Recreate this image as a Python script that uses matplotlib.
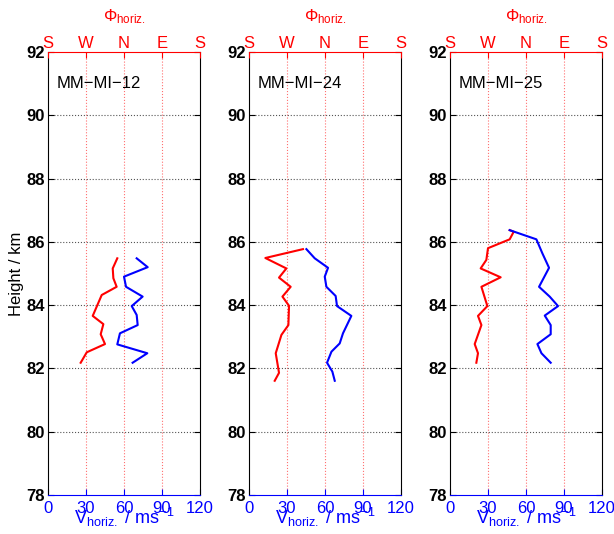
import matplotlib.pyplot as plt

plt.rcParams['font.family'] = ['Liberation Sans', 'DejaVu Sans']
plt.rcParams['mathtext.fontset'] = 'custom'
plt.rcParams['mathtext.rm'] = 'Liberation Sans'
plt.rcParams['mathtext.it'] = 'Liberation Sans'

# station names
names = ['MM\u2212MI\u221212', 'MM\u2212MI\u221224', 'MM\u2212MI\u221225']

# direction profiles (plotted on the 0-120 scale, S W N E S on top)
dir_h1 = [85.48, 85.16, 84.85, 84.58, 84.32, 83.66, 83.40, 83.08, 82.77, 82.51, 82.18]
dir_v1 = [54.7, 51.1, 51.6, 54.2, 42.4, 35.3, 43.7, 41.6, 45.0, 30.6, 25.8]
dir_h2 = [85.77, 85.49, 85.16, 84.87, 84.58, 84.27, 83.98, 83.37, 83.06, 82.48, 81.86, 81.61]
dir_v2 = [42.6, 12.9, 29.5, 23.7, 32.9, 26.4, 31.6, 31.1, 25.6, 21.1, 23.7, 20.3]
dir_h3 = [86.37, 86.32, 86.08, 85.80, 85.43, 85.16, 84.88, 84.58, 83.97, 83.66, 83.37, 82.77, 82.48, 82.18]
dir_v3 = [47.1, 50.3, 47.1, 30.0, 28.7, 24.2, 40.0, 24.8, 29.5, 22.1, 24.8, 19.5, 22.1, 20.8]

# horizontal speed profiles (m/s)
spd_h1 = [85.48, 85.20, 84.90, 84.58, 84.27, 83.97, 83.69, 83.37, 83.11, 82.76, 82.48, 82.18]
spd_v1 = [70.0, 78.7, 60.0, 61.6, 74.7, 66.1, 70.0, 70.8, 56.8, 54.7, 78.4, 66.8]
spd_h2 = [85.77, 85.48, 85.18, 84.90, 84.58, 84.29, 83.97, 83.66, 83.11, 82.79, 82.53, 82.18, 81.90, 81.61]
spd_v2 = [45.3, 51.9, 62.4, 59.8, 61.1, 68.4, 69.5, 80.8, 74.2, 71.6, 65.1, 61.6, 65.8, 67.7]
spd_h3 = [86.37, 86.08, 85.64, 85.18, 84.58, 84.27, 83.97, 83.67, 83.37, 83.08, 82.77, 82.48, 82.18]
spd_v3 = [47.1, 68.2, 72.9, 78.2, 70.3, 78.7, 85.3, 74.8, 79.5, 79.5, 69.0, 72.2, 79.5]

x_ticks = [0, 30, 60, 90, 120]
top_labels = ['S', 'W', 'N', 'E', 'S']
y_ticks = [78, 80, 82, 84, 86, 88, 90, 92]

dirs = [(dir_v1, dir_h1), (dir_v2, dir_h2), (dir_v3, dir_h3)]
spds = [(spd_v1, spd_h1), (spd_v2, spd_h2), (spd_v3, spd_h3)]

fig = plt.figure(figsize=(6.14, 5.34), dpi=100)
lefts = [48 / 614, 249 / 614, 450 / 614]

for i in range(3):
    ax = fig.add_axes([lefts[i], 39 / 534, 152 / 614, 443 / 534])
    ax.set_xlim(0, 120)
    ax.set_ylim(78, 92)

    # grid lines
    for gx in [30, 60, 90]:
        ax.axvline(gx, color='#ff7070', ls=':', lw=0.8, zorder=0)
    for gy in [80, 82, 84, 86, 88, 90]:
        ax.axhline(gy, color='#555555', ls=':', lw=0.8, zorder=0)

    ax.plot(dirs[i][0], dirs[i][1], color='red', lw=1.5)
    ax.plot(spds[i][0], spds[i][1], color='blue', lw=1.5)

    ax.set_xticks(x_ticks)
    ax.set_yticks(y_ticks)
    ax.tick_params(axis='x', direction='in', colors='blue', labelsize=12, pad=4, length=4)
    ax.tick_params(axis='y', direction='in', right=True, length=4, pad=2)
    for lab in ax.get_yticklabels():
        lab.set_fontsize(12)
        lab.set_fontweight('bold')
    ax.spines['bottom'].set_color('blue')
    ax.spines['left'].set_color('black')
    ax.spines['right'].set_color('black')
    ax.spines['top'].set_visible(False)

    top = ax.twiny()
    top.set_xlim(0, 120)
    top.set_xticks(x_ticks)
    top.set_xticklabels(top_labels)
    top.tick_params(axis='x', direction='in', colors='red', labelsize=12, pad=1, length=4)
    top.spines['top'].set_color('red')
    top.spines['bottom'].set_visible(False)
    top.spines['left'].set_visible(False)
    top.spines['right'].set_visible(False)

    ax.text(0.06, 0.93, names[i], transform=ax.transAxes, fontsize=12, va='center', ha='left')
    ax.text(0.5, 1.07, r'$\Phi_{\mathrm{horiz.}}$', transform=ax.transAxes,
            color='red', fontsize=12, ha='center', va='baseline')
    ax.text(0.5, -0.066, '$\\mathrm{V}_{\\mathrm{horiz.}}$ / ms$^{\\mathrm{\u22121}}$',
            transform=ax.transAxes, color='blue', fontsize=13, ha='center', va='baseline')
    if i == 0:
        ax.set_ylabel('Height / km', fontsize=12, labelpad=2)

fig.savefig('out.png', dpi=100)
